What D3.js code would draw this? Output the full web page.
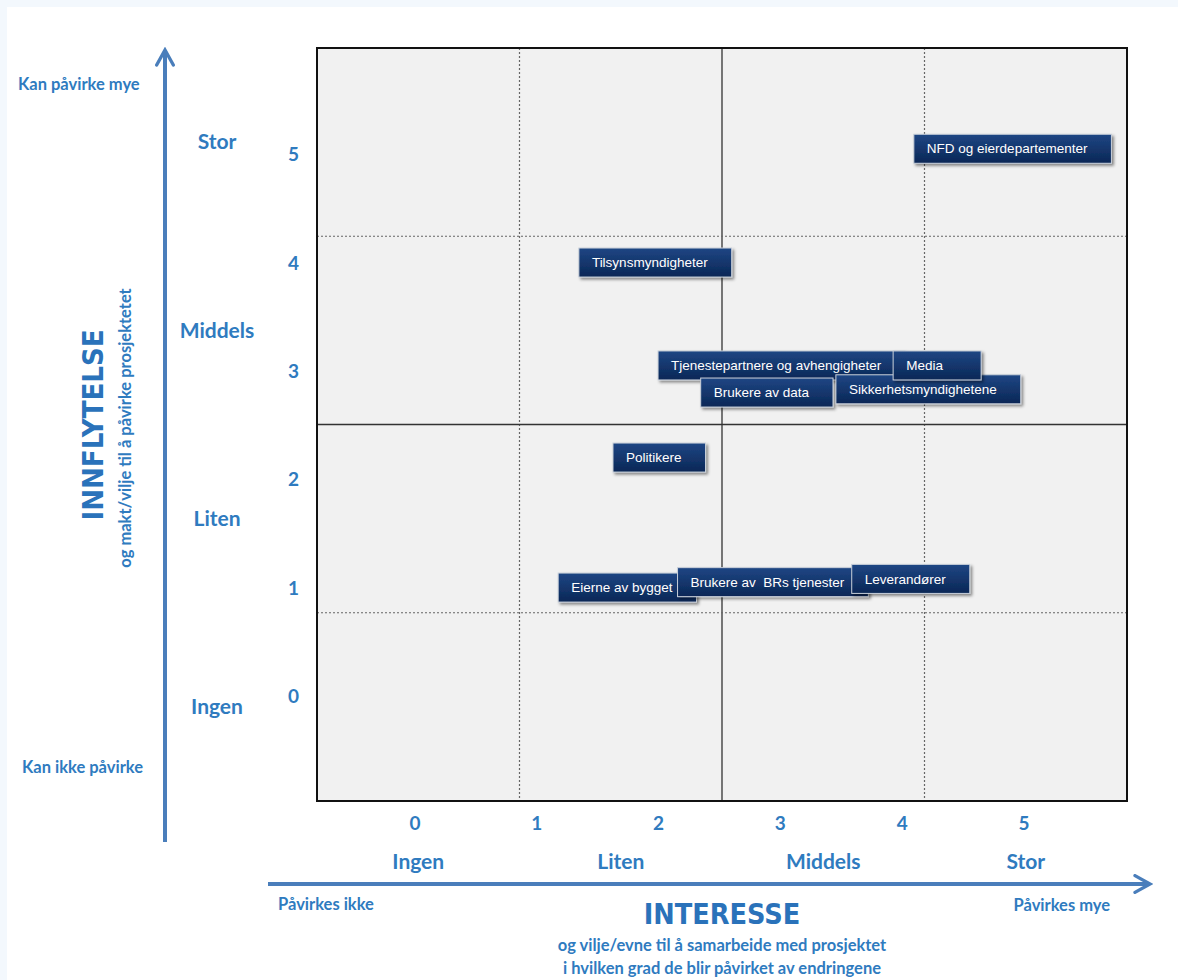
<!DOCTYPE html>
<html><head><meta charset="utf-8">
<script src="https://cdn.jsdelivr.net/npm/d3@7"></script>
<style>
html,body{margin:0;padding:0;background:#f3f8fd;}
svg{display:block;}
</style></head>
<body>
<svg id="chart" width="1178" height="980"></svg>
<script>
// ---- data ----
const stakeholders = ["NFD og eierdepartementer", "Tilsynsmyndigheter", "Tjenestepartnere og avhengigheter", "Brukere av data", "Sikkerhetsmyndighetene", "Media", "Politikere", "Eierne av bygget", "Brukere av  BRs tjenester", "Leverandører"];
const interest  = [4.1, 1.35, 2.0, 2.35, 3.46, 3.93, 1.63, 1.18, 2.16, 3.59];
const influence = [5.05, 4.0, 3.05, 2.8, 2.83, 3.05, 2.2, 1.0, 1.05, 1.08];
const tickValues = [0, 1, 2, 3, 4, 5];
const levelLabels = ["Ingen", "Liten", "Middels", "Stor"];
const xTitle = "INTERESSE";
const xSub = ["og vilje/evne til å samarbeide med prosjektet", "i hvilken grad de blir påvirket av endringene"];
const xEnds = ["Påvirkes ikke", "Påvirkes mye"];
const yTitle = "INNFLYTELSE";
const ySub = "og makt/vilje til å påvirke prosjektetet";
const yEnds = ["Kan ikke påvirke", "Kan påvirke mye"];

// ---- layout ----
const W = 1178, H = 980;
const P = {l: 317, r: 1127, t: 48, b: 801};
const blue = "#2f7bbf", arrowBlue = "#4a7ebb";
const svg = d3.select("#chart");
const defs = svg.append("defs");
const grad = defs.append("linearGradient").attr("id","boxg").attr("x1",0).attr("y1",0).attr("x2",0).attr("y2",1);
grad.append("stop").attr("offset","0%").attr("stop-color","#1f4684");
grad.append("stop").attr("offset","100%").attr("stop-color","#0a2756");
const f = defs.append("filter").attr("id","sh").attr("x","-10%").attr("y","-30%").attr("width","130%").attr("height","180%");
f.append("feDropShadow").attr("dx",2).attr("dy",2).attr("stdDeviation",1.5).attr("flood-color","#000").attr("flood-opacity",0.45);
defs.append("marker").attr("id","ah").attr("viewBox","0 0 12 12").attr("refX",10).attr("refY",6)
  .attr("markerWidth",5).attr("markerHeight",5).attr("markerUnits","strokeWidth").attr("orient","auto")
  .append("path").attr("d","M1,1 L10,6 L1,11").attr("fill","none").attr("stroke",arrowBlue).attr("stroke-width",2).attr("stroke-linecap","round");

svg.append("rect").attr("width",W).attr("height",H).attr("fill","#f3f8fd");
svg.append("rect").attr("x",7).attr("y",7).attr("width",W-7).attr("height",H-7).attr("fill","#fff");

const x = d3.scaleLinear().domain([-0.8, 5.85]).range([P.l, P.r]);
const y = d3.scaleLinear().domain([-0.97, 5.98]).range([P.b, P.t]);
const xb = d3.scaleBand().domain(levelLabels).range([P.l, P.r]);
const yb = d3.scaleBand().domain(levelLabels.slice().reverse()).range([P.t, P.b]);

// plot background
svg.append("rect").attr("x",P.l).attr("y",P.t).attr("width",P.r-P.l).attr("height",P.b-P.t).attr("fill","#f1f1f1");

// grid: quadrant boundaries
const xBounds = levelLabels.slice(1).map(c => xb(c));
const yBounds = yb.domain().slice(0,3).map(c => yb(c) + yb.bandwidth());
const g = svg.append("g");
const lineStyle = sel => sel
  .attr("stroke",(d,i)=> i===1 ? "#333" : "#666")
  .attr("stroke-width",(d,i)=> i===1 ? 1.3 : 1.2)
  .attr("stroke-dasharray",(d,i)=> i===1 ? null : "2,2");
g.append("g").selectAll("line").data(xBounds).join("line")
  .attr("x1",d=>d).attr("x2",d=>d).attr("y1",P.t).attr("y2",P.b).call(lineStyle);
g.append("g").selectAll("line").data(yBounds).join("line")
  .attr("y1",d=>d).attr("y2",d=>d).attr("x1",P.l).attr("x2",P.r).call(lineStyle);

// frame
svg.append("rect").attr("x",P.l).attr("y",P.t).attr("width",P.r-P.l).attr("height",P.b-P.t)
  .attr("fill","none").attr("stroke","#111").attr("stroke-width",2);

const FONT = "Lato, 'Open Sans', sans-serif";
// axes tick labels (numbers)
const xAxis = d3.axisBottom(x).tickValues(tickValues).tickFormat(d3.format("d")).tickSize(0).tickPadding(0);
const xa = svg.append("g").attr("transform",`translate(0,${P.b+29})`).call(xAxis);
xa.select(".domain").remove();
xa.selectAll("text").attr("fill",blue).attr("font-family",FONT)
  .attr("font-weight","bold").attr("font-size",19).attr("dy","0");

const yAxis = d3.axisLeft(y).tickValues(tickValues).tickFormat(d3.format("d")).tickSize(0).tickPadding(0);
const ya = svg.append("g").attr("transform",`translate(299,0)`).call(yAxis);
ya.select(".domain").remove();
ya.selectAll("text").attr("fill",blue).attr("font-family",FONT)
  .attr("font-weight","bold").attr("font-size",19).attr("dy","0.35em");

// level labels
const applyAttrs = (sel, o) => { Object.entries(o).forEach(([k,v]) => sel.attr(k,v)); return sel; };
const lab = {fill: blue, "font-family": FONT, "font-weight": "bold", "font-size": 21};
applyAttrs(svg.append("g").selectAll("text").data(levelLabels).join("text")
  .attr("x",d=>xb(d)+xb.bandwidth()/2).attr("y",P.b+68).attr("text-anchor","middle").text(d=>d), lab);
applyAttrs(svg.append("g").selectAll("text").data(levelLabels).join("text")
  .attr("x",217).attr("y",d=>yb(d)+yb.bandwidth()/2).attr("dy","0.35em").attr("text-anchor","middle").text(d=>d), lab);

// arrows
svg.append("line").attr("x1",165).attr("x2",165).attr("y1",842).attr("y2",50)
  .attr("stroke",arrowBlue).attr("stroke-width",4).attr("marker-end","url(#ah)");
svg.append("line").attr("x1",268).attr("x2",1150).attr("y1",884).attr("y2",884)
  .attr("stroke",arrowBlue).attr("stroke-width",4).attr("marker-end","url(#ah)");

// axis titles
const small = {fill: blue, "font-family": FONT, "font-weight": "bold", "font-size": 16.5};
const BIG = "'DejaVu Sans Condensed', 'DejaVu Sans', sans-serif";
applyAttrs(svg.append("text").attr("x",18).attr("y",90).text(yEnds[1]), small);
applyAttrs(svg.append("text").attr("x",22).attr("y",773).text(yEnds[0]), small);
applyAttrs(svg.append("text").attr("x",278).attr("y",910).text(xEnds[0]), small);
applyAttrs(svg.append("text").attr("x",1110).attr("y",911).attr("text-anchor","end").text(xEnds[1]), small);
applyAttrs(svg.append("text").attr("x",722).attr("y",924).attr("text-anchor","middle").text(xTitle), small)
  .attr("font-size",28.5).attr("font-family",BIG).attr("fill","#2a72ba");
xSub.forEach((s,i)=> applyAttrs(svg.append("text").attr("x",722).attr("y",951+i*23).attr("text-anchor","middle").text(s), small));
applyAttrs(svg.append("text").attr("transform","translate(103,425) rotate(-90)").attr("text-anchor","middle").text(yTitle), small)
  .attr("font-size",29).attr("font-family",BIG).attr("fill","#2a72ba");
applyAttrs(svg.append("text").attr("transform","translate(131,428) rotate(-90)").attr("text-anchor","middle").text(ySub), small);

// stakeholder boxes
const data = stakeholders.map((n,i)=>({name:n, xv:interest[i], yv:influence[i]}));
const bh = 29, padL = 13, padR = 24;
const boxes = svg.append("g").selectAll("g").data(data).join("g")
  .attr("transform", d => `translate(${x(d.xv)},${y(d.yv) - bh/2})`);
boxes.append("rect").attr("height",bh).attr("fill","url(#boxg)")
  .attr("stroke","#c9d0da").attr("stroke-width",1).attr("filter","url(#sh)");
boxes.append("text").attr("x",padL).attr("y",bh/2).attr("dy","0.35em")
  .attr("fill","#fff").attr("font-family","'Liberation Sans', Arial, sans-serif").attr("font-size",13.5)
  .style("white-space","pre")
  .text(d=>d.name);
boxes.each(function(){
  const gEl = d3.select(this);
  const tw = gEl.select("text").node().getComputedTextLength();
  gEl.select("rect").attr("width", Math.max(88, tw + padL + padR));
});
</script>
</body></html>
